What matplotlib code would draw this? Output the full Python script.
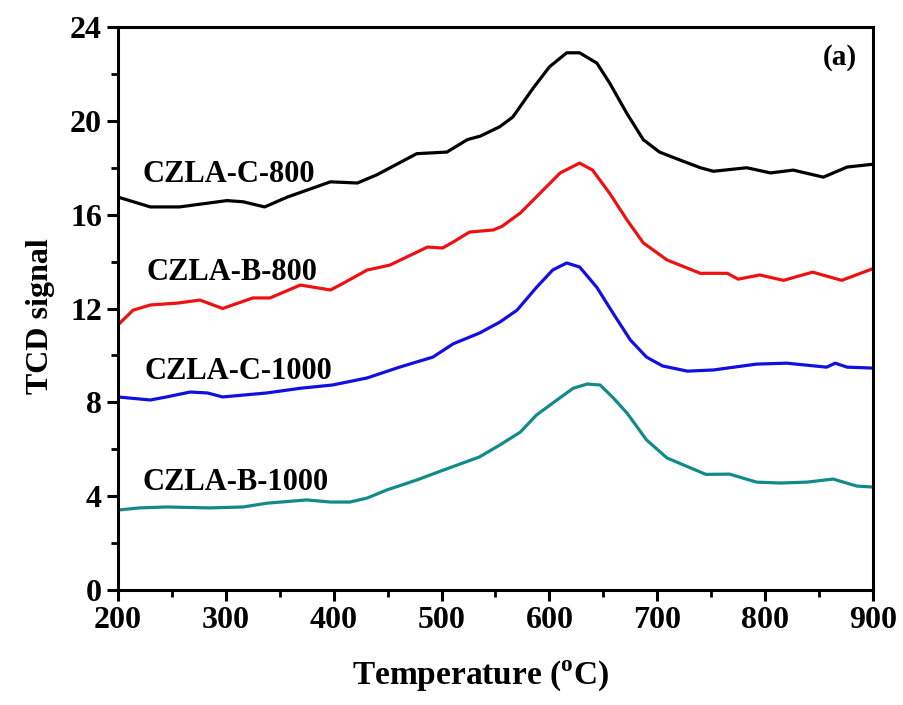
import matplotlib.pyplot as plt
from matplotlib.ticker import MultipleLocator

plt.rcParams['font.family'] = ['Liberation Serif', 'DejaVu Serif']
plt.rcParams['font.weight'] = 'bold'
plt.rcParams['mathtext.fontset'] = 'custom'
plt.rcParams['mathtext.rm'] = 'Liberation Serif:bold'
plt.rcParams['mathtext.bf'] = 'Liberation Serif:bold'

# CZLA-C-800 (black)
t_c800 = [200, 230, 257, 301, 316, 336, 357, 397, 422, 440, 477, 505, 524, 536,
          554, 566, 585, 600, 616, 628, 644, 656, 672, 687, 702, 721, 740, 752,
          783, 805, 826, 854, 876, 900]
y_c800 = [16.75, 16.33, 16.33, 16.6, 16.55, 16.33, 16.75, 17.4, 17.35, 17.7, 18.6,
          18.67, 19.2, 19.35, 19.75, 20.16, 21.4, 22.3, 22.9, 22.9, 22.46, 21.6,
          20.3, 19.2, 18.67, 18.33, 18.0, 17.85, 18.0, 17.78, 17.9, 17.6, 18.03, 18.15]

# CZLA-B-800 (red)
t_b800 = [200, 214, 230, 255, 276, 297, 325, 341, 369, 397, 409, 431, 452, 487,
          501, 511, 526, 548, 556, 573, 591, 610, 628, 640, 656, 672, 687, 709,
          740, 765, 775, 795, 817, 844, 871, 900]
y_b800 = [11.3, 11.93, 12.15, 12.23, 12.36, 12.0, 12.45, 12.45, 13.0, 12.79, 13.08,
          13.64, 13.85, 14.62, 14.58, 14.84, 15.26, 15.35, 15.5, 16.07, 16.9, 17.78,
          18.2, 17.9, 16.9, 15.77, 14.8, 14.07, 13.5, 13.5, 13.25, 13.43, 13.2,
          13.55, 13.2, 13.7]

# CZLA-C-1000 (blue)
t_c1000 = [200, 230, 245, 267, 283, 297, 338, 369, 399, 431, 461, 492, 511, 535,
           554, 570, 588, 603, 616, 628, 644, 659, 675, 690, 705, 728, 752, 792,
           820, 857, 865, 876, 900]
y_c1000 = [8.23, 8.1, 8.23, 8.44, 8.4, 8.23, 8.4, 8.6, 8.74, 9.04, 9.5, 9.93, 10.5,
           10.95, 11.42, 11.93, 12.9, 13.64, 13.94, 13.77, 12.9, 11.8, 10.66, 9.93,
           9.55, 9.33, 9.38, 9.63, 9.67, 9.5, 9.67, 9.5, 9.46]

# CZLA-B-1000 (teal)
t_b1000 = [200, 220, 245, 285, 316, 338, 375, 397, 415, 431, 449, 477, 501, 535,
           554, 573, 588, 607, 622, 635, 647, 659, 672, 690, 709, 745, 767, 792,
           814, 839, 863, 885, 900]
y_b1000 = [3.41, 3.5, 3.54, 3.5, 3.54, 3.7, 3.84, 3.75, 3.75, 3.92, 4.26, 4.69, 5.1,
           5.67, 6.18, 6.73, 7.46, 8.1, 8.6, 8.78, 8.74, 8.2, 7.54, 6.4, 5.63, 4.93,
           4.94, 4.6, 4.56, 4.6, 4.73, 4.43, 4.39]

labels = ['CZLA-C-800', 'CZLA-B-800', 'CZLA-C-1000', 'CZLA-B-1000']
label_x = [223, 226, 225, 223]
label_y = [17.7, 13.55, 9.3, 4.6]
colors = ['black', '#ee1111', '#1010e0', '#138a8a']

fig = plt.figure(figsize=(9.04, 7.05), dpi=100)
ax = fig.add_axes([0.1305, 0.1631, 0.8352, 0.7986])

series = [(t_c800, y_c800), (t_b800, y_b800), (t_c1000, y_c1000), (t_b1000, y_b1000)]
for (t, y), c in zip(series, colors):
    ax.plot(t, y, color=c, lw=2.3, solid_joinstyle='round')

for lab, x, y in zip(labels, label_x, label_y):
    ax.text(x, y, lab, fontsize=22, fontweight='bold', va='center', ha='left')

ax.text(853, 22.7, '(a)', fontsize=21, fontweight='bold', va='center', ha='left')

ax.set_xlim(200, 900)
ax.set_ylim(0, 24)
ax.xaxis.set_major_locator(MultipleLocator(100))
ax.xaxis.set_minor_locator(MultipleLocator(50))
ax.yaxis.set_major_locator(MultipleLocator(4))
ax.yaxis.set_minor_locator(MultipleLocator(2))
ax.tick_params(which='major', direction='out', length=8, width=2.2, labelsize=23)
ax.tick_params(which='minor', direction='out', length=5, width=2.0)
for sp in ax.spines.values():
    sp.set_linewidth(2.2)

ax.set_xlabel(r'Temperature ($^{\rm o}$C)', fontsize=24, fontweight='bold')
ax.set_ylabel('TCD signal', fontsize=23, fontweight='bold')
ax.xaxis.set_label_coords(0.48, -0.12)
ax.yaxis.set_label_coords(-0.084, 0.487)

fig.savefig('out.png', dpi=100)
